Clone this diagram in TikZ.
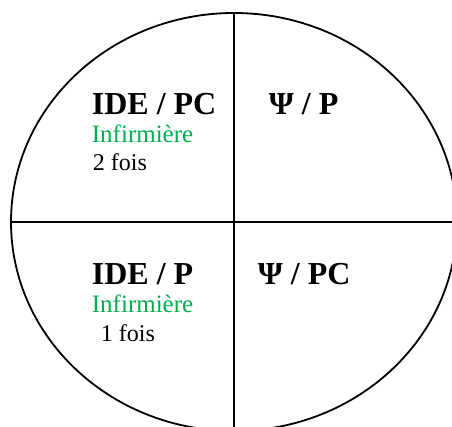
\documentclass[tikz,border=0pt]{standalone}
\usepackage{fontspec}
\setmainfont{Liberation Serif}
\usepackage{xcolor}
\usetikzlibrary{shapes.geometric}
\definecolor{nursegreen}{RGB}{0,176,80}

\begin{document}
\begin{tikzpicture}[x=1pt, y=1pt, line width=1.8pt,
  every node/.style={inner sep=0pt, anchor=base west},
  head/.style={font=\bfseries\fontsize{32}{32}\selectfont},
  note/.style={font=\fontsize{25}{25}\selectfont, text=nursegreen},
  count/.style={font=\fontsize{24}{24}\selectfont}]
  % Cadre
  \useasboundingbox (0,0) rectangle (452,427);
  \clip (0,0) rectangle (452,427);
  % Cercle et axes
  \node[draw, ellipse, anchor=center, minimum width=446, minimum height=418] (disc) at (234,205) {};
  \draw (disc.north) -- (disc.north |- 0,0);
  \draw (disc.west) -- (disc.west -| 452,0);
  % Haut gauche
  \node[head] (ide1) at (91,312) {IDE / PC};
  \node[note] (inf1) at (91,284) {Infirmière};
  \node[count] (cnt1) at (92,256) {2 fois};
  % Haut droite
  \node[head] (psi1) at (268,312) {Ψ / P};
  % Bas gauche
  \node[head] (ide2) at (91,142) {IDE / P};
  \node[note] (inf2) at (91,114) {Infirmière};
  \node[count] (cnt2) at (100,85) {1 fois};
  % Bas droite
  \node[head] (psi2) at (257,142) {Ψ / PC};
\end{tikzpicture}
\end{document}
